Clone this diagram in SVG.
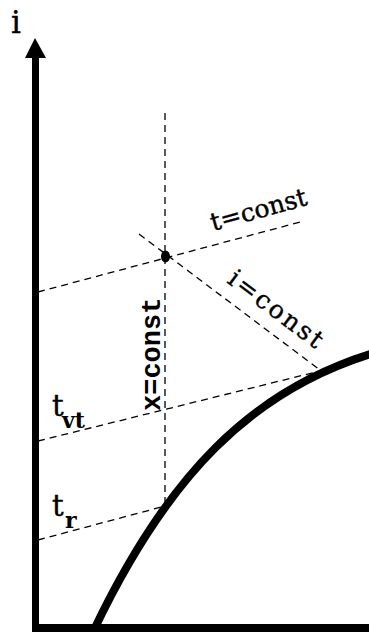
<svg xmlns="http://www.w3.org/2000/svg" width="369" height="632" viewBox="0 0 369 632">
<style>
.dash{fill:none;stroke:#000;stroke-width:1.3;stroke-dasharray:7,5}
.lbl{font-family:"DejaVu Serif",serif;fill:#000;stroke:#000;stroke-width:0.4}
.sub{font-family:"DejaVu Serif",serif;font-weight:bold;fill:#000}
.mono{font-family:"Liberation Mono","Courier New",monospace;font-weight:bold;fill:#000}
</style>
<rect width="369" height="632" fill="#fff"/>
<g id="axes">
<line x1="35.5" y1="56" x2="35.5" y2="632" stroke="#000" stroke-width="7"/>
<line x1="32" y1="628" x2="369" y2="628" stroke="#000" stroke-width="8"/>
<polygon points="35,38 25,58 46,58" fill="#000"/>
<text class="lbl" x="11" y="33" font-size="31">i</text>
</g>
<g id="connectors">
<line class="dash" x1="165" y1="113" x2="165" y2="506"/>
<line class="dash" x1="38" y1="292" x2="304" y2="221"/>
<line class="dash" x1="139" y1="234" x2="320" y2="370"/>
<line class="dash" x1="38" y1="441" x2="320" y2="371"/>
<line class="dash" x1="38" y1="540" x2="165" y2="506"/>
</g>
<g id="curve">
<path d="M92 634 C167 475 252 390 374 353" fill="none" stroke="#000" stroke-width="8"/>
</g>
<g id="point">
<ellipse cx="165.5" cy="256.5" rx="4.5" ry="6" fill="#000"/>
</g>
<g id="label-t-const">
<text class="lbl" font-size="25" transform="translate(213,231) rotate(-15.4)">t=const</text>
</g>
<g id="label-i-const">
<text class="lbl" font-size="25" letter-spacing="2.5" transform="translate(226,282) rotate(37)">i=const</text>
</g>
<g id="label-x-const">
<text class="mono" font-size="27" transform="translate(160,411) rotate(-90)">x=const</text>
</g>
<g id="label-tvt">
<text class="lbl" x="52" y="416" font-size="29">t</text>
<text class="sub" x="62" y="428" font-size="22">vt</text>
</g>
<g id="label-tr">
<text class="lbl" x="52" y="516" font-size="29">t</text>
<text class="sub" x="65" y="528" font-size="22">r</text>
</g>
</svg>
